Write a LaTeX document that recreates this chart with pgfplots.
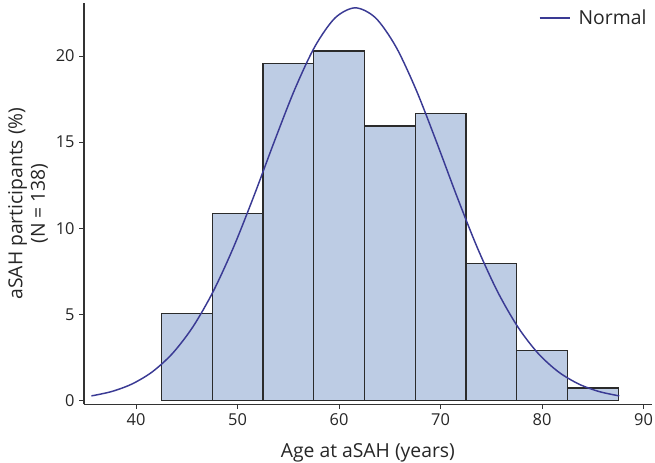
\documentclass[border=0pt]{standalone}
\usepackage{fontspec}
\setmainfont{Open Sans}
\usepackage{pgfplots}
\pgfplotsset{compat=1.18}
\definecolor{barfill}{HTML}{BDCCE4}
\definecolor{baredge}{HTML}{2B2B2B}
\definecolor{normline}{HTML}{3A3A94}
\begin{document}
\begin{tikzpicture}
\begin{axis}[
  scale only axis,
  width=425.8pt, height=301.2pt,
  xmin=34.87, xmax=90.8,
  ymin=-0.21, ymax=23.1,
  axis lines*=left,
  axis line style={line width=0.9pt, black!80},
  xtick={40,50,...,90},
  ytick={0,5,...,20},
  tick align=outside,
  major tick length=3.5pt,
  tick style={line width=0.8pt, black!80},
  /pgf/number format/assume math mode=true,
  ticklabel style={font=\fontsize{12.3}{14}\selectfont, text=black!85},
  label style={font=\fontsize{14.5}{17}\selectfont, text=black!85},
  xlabel={Age at aSAH (years)},
  ylabel={aSAH participants (\%)\\(N = 138)},
  ylabel style={align=center, yshift=-1pt},
  xlabel style={yshift=-6.5pt},
  legend style={at={(1.0075,0.997)}, anchor=north east, draw=none, fill=none,
    font=\fontsize{14.5}{17}\selectfont, text=black!85,
    nodes={inner xsep=4pt}},
  legend cell align=left,
  legend image code/.code={\draw[#1] (0cm,0cm) -- (0.8cm,0cm);},
]
\addplot[ybar interval, fill=barfill, draw=baredge, line width=1pt, forget plot]
  coordinates {(42.5,5.072) (47.5,10.870) (52.5,19.565) (57.5,20.290)
    (62.5,15.942) (67.5,16.667) (72.5,7.971) (77.5,2.899) (82.5,0.725) (87.5,0.725)};
\addplot[normline, line width=1.1pt, smooth, mark=none]
  coordinates {(35.6,0.276) (37.6,0.530) (39.6,0.967) (41.6,1.673) (43.6,2.748)
    (45.6,4.285) (47.6,6.339) (49.6,8.903) (51.6,11.866) (53.6,15.011)
    (55.6,18.023) (57.6,20.538) (59.6,22.212) (61.6,22.8) (63.6,22.212)
    (65.6,20.538) (67.6,18.023) (69.6,15.011) (71.6,11.866) (73.6,8.903)
    (75.6,6.339) (77.6,4.285) (79.6,2.748) (81.6,1.673) (83.6,0.967)
    (85.6,0.530) (87.6,0.276)};
\addlegendentry{\hspace{2pt}Normal}
\end{axis}
\pgfresetboundingbox
\path[use as bounding box] (-63pt,-44pt) rectangle (428.25pt,303.2pt);
\end{tikzpicture}
\end{document}
